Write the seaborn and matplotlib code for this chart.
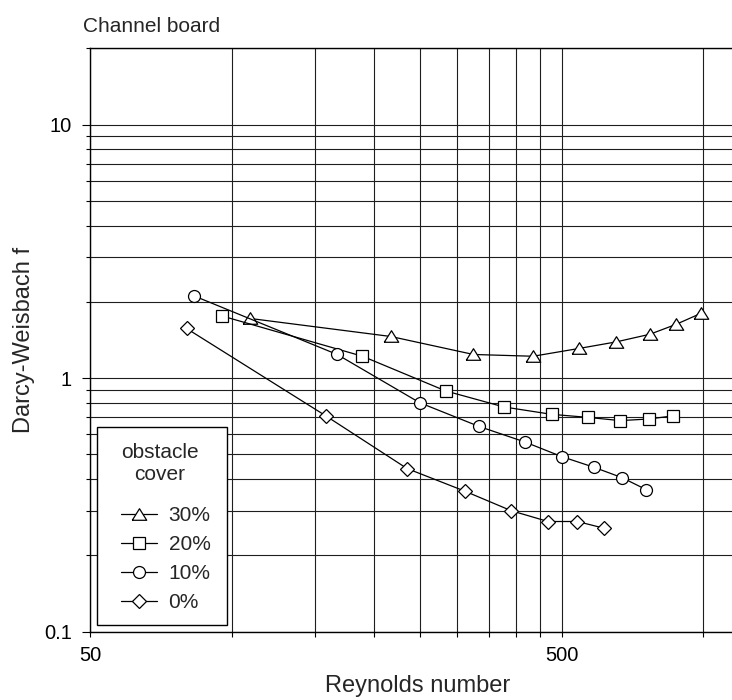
import matplotlib
matplotlib.use("Agg")
import matplotlib.pyplot as plt
from matplotlib.patches import Rectangle
from matplotlib.ticker import FixedLocator, FixedFormatter, NullFormatter
import seaborn as sns

# Friction factor vs Reynolds number on the channel board, per obstacle cover
re_30 = [109, 217, 325, 435, 545, 653, 770, 875, 987]
f_30 = [1.72, 1.46, 1.24, 1.22, 1.31, 1.39, 1.49, 1.63, 1.80]

re_20 = [95, 189, 284, 377, 476, 570, 666, 765, 863]
f_20 = [1.76, 1.22, 0.89, 0.77, 0.72, 0.70, 0.68, 0.69, 0.71]

re_10 = [83, 167, 250, 334, 418, 501, 586, 672, 757]
f_10 = [2.11, 1.24, 0.80, 0.645, 0.56, 0.49, 0.445, 0.405, 0.363]

re_0 = [80, 158, 235, 312, 391, 468, 540, 615]
f_0 = [1.57, 0.71, 0.44, 0.358, 0.30, 0.272, 0.272, 0.256]

cover_labels = ["30%", "20%", "10%", "0%"]

x_major = [50, 500]
x_major_labels = ["50", "500"]
x_minor = [100, 150, 200, 250, 300, 350, 400, 450, 1000]
y_major = [0.1, 1, 10]
y_major_labels = ["0.1", "1", "10"]
y_minor = [0.2, 0.3, 0.4, 0.5, 0.6, 0.7, 0.8, 0.9,
           2, 3, 4, 5, 6, 7, 8, 9, 20]

sns.set_style("white")
plt.rcParams["font.family"] = ["Liberation Sans", "DejaVu Sans"]

fig = plt.figure(figsize=(7.32, 7.0), dpi=100)
ax = fig.add_axes([0.1235, 0.0976, 0.8765, 0.8334])
ax.set_xscale("log")
ax.set_yscale("log")

# flattened up-pointing triangle
tri = [(-1.0, -0.8), (1.0, -0.8), (0.0, 0.8), (-1.0, -0.8)]
series = [
    (re_30, f_30, tri, 10.4),
    (re_20, f_20, "s", 8.4),
    (re_10, f_10, "o", 8.6),
    (re_0, f_0, "D", 7.0),
]
for (xs, ys, mk, ms), lab in zip(series, cover_labels):
    sns.lineplot(x=xs, y=ys, ax=ax, color="black", lw=0.9,
                 marker=mk, markersize=ms, markerfacecolor="white",
                 markeredgecolor="black", markeredgewidth=0.9,
                 estimator=None, sort=False, label=lab)

ax.set_xlim(50, 1150)
ax.set_ylim(0.1, 20)

ax.xaxis.set_major_locator(FixedLocator(x_major))
ax.xaxis.set_major_formatter(FixedFormatter(x_major_labels))
ax.xaxis.set_minor_locator(FixedLocator(x_minor))
ax.xaxis.set_minor_formatter(NullFormatter())
ax.yaxis.set_major_locator(FixedLocator(y_major))
ax.yaxis.set_major_formatter(FixedFormatter(y_major_labels))
ax.yaxis.set_minor_locator(FixedLocator(y_minor))
ax.yaxis.set_minor_formatter(NullFormatter())

ax.grid(which="both", color="#1e1e1e", lw=0.8)
ax.set_axisbelow(True)

ax.tick_params(axis="both", which="both", direction="out", color="black",
               width=0.8, labelsize=14.5, labelcolor="black")
ax.tick_params(axis="y", which="major", length=5.8, pad=7.5, left=True)
ax.tick_params(axis="y", which="minor", length=2.9, left=True)
ax.tick_params(axis="x", which="both", length=3.6, pad=6.7, bottom=True)

for side in ["left", "bottom", "top"]:
    ax.spines[side].set_visible(True)
    ax.spines[side].set_color("black")
    ax.spines[side].set_linewidth(1.0)
ax.spines["right"].set_visible(False)

ax.set_xlabel("Reynolds number", fontsize=17)
ax.xaxis.set_label_coords(0.5106, -0.1034)
ax.xaxis.label.set_va("baseline")
ax.set_ylabel("Darcy-Weisbach f", fontsize=17)
ax.yaxis.set_label_coords(-0.0863, 0.5)

fig.text(83.3 / 732, 1 - 31.7 / 700, "Channel board", fontsize=15,
         ha="left", va="baseline")

# legend: white box with a plain black frame, entries left-aligned inside
ax.add_patch(Rectangle((0.0098, 0.0115), 0.2026, 0.3399,
                       transform=ax.transAxes, facecolor="white",
                       edgecolor="black", lw=1.0, zorder=4.5))
leg = ax.legend(title="obstacle\ncover", fontsize=15, title_fontsize=15,
                loc="lower left", bbox_to_anchor=(0.0477, 0.0336),
                borderaxespad=0, borderpad=0, labelspacing=0.475,
                handlelength=1.75, handletextpad=0.53,
                alignment="left", frameon=False)
leg.set_zorder(5)
leg.get_title().set_multialignment("center")
leg._legend_box.sep = 15.8

fig.savefig("out.png", dpi=100)
